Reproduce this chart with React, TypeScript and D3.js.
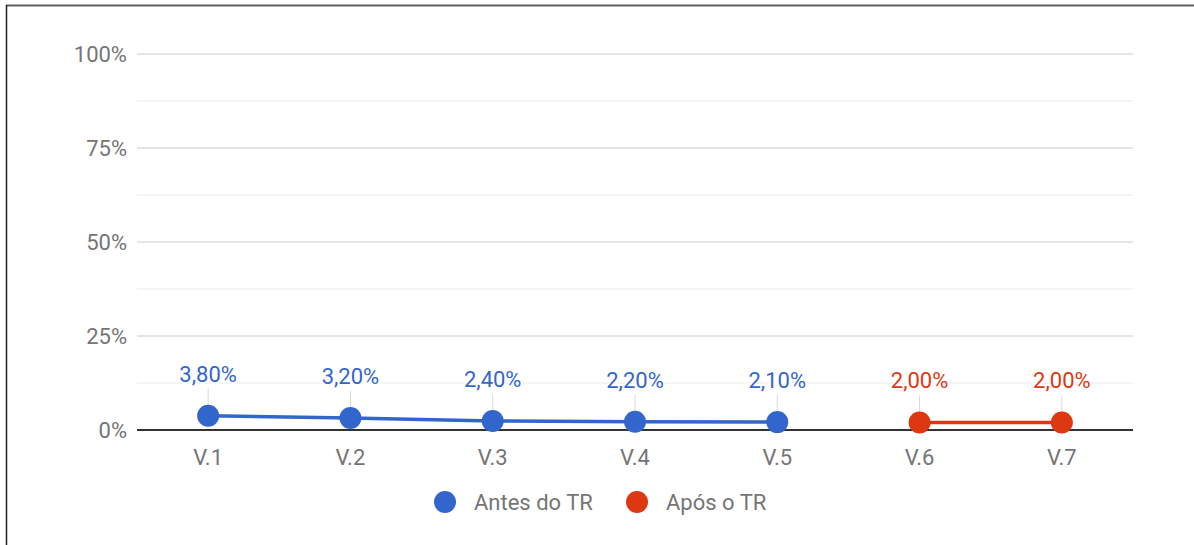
import { useEffect, useRef } from "react";
import * as d3 from "d3";

const categories = ["V.1", "V.2", "V.3", "V.4", "V.5", "V.6", "V.7"];
const antesValues = [3.8, 3.2, 2.4, 2.2, 2.1];
const aposValues = [2.0, 2.0];
const antesCats = ["V.1", "V.2", "V.3", "V.4", "V.5"];
const aposCats = ["V.6", "V.7"];
const yTicks = [0, 25, 50, 75, 100];
const yMinorTicks = [12.5, 37.5, 62.5, 87.5];
const seriesNames = ["Antes do TR", "Após o TR"];

const BLUE = "#3366cc";
const RED = "#dc3912";
const FONT = "Roboto, 'Noto Sans', sans-serif";

interface Point {
  cat: string;
  value: number;
}

export default function App() {
  const svgRef = useRef<SVGSVGElement>(null);

  useEffect(() => {
    if (!svgRef.current) return;

    const width = 1194;
    const height = 545;
    const margin = { top: 54, right: 61, bottom: 115, left: 137 };
    const innerWidth = width - margin.left - margin.right;
    const innerHeight = height - margin.top - margin.bottom;

    d3.select(svgRef.current).selectAll("*").remove();

    const svg = d3
      .select(svgRef.current)
      .attr("width", width)
      .attr("height", height);

    // frame (top + left edges only)
    svg
      .append("line")
      .attr("x1", 6)
      .attr("x2", width)
      .attr("y1", 5.5)
      .attr("y2", 5.5)
      .attr("stroke", "#5f5f5f")
      .attr("stroke-width", 2);
    svg
      .append("line")
      .attr("x1", 6.5)
      .attr("x2", 6.5)
      .attr("y1", 5)
      .attr("y2", height)
      .attr("stroke", "#222")
      .attr("stroke-width", 1.5);

    const g = svg
      .append("g")
      .attr("transform", `translate(${margin.left},${margin.top})`);

    const x = d3
      .scaleBand<string>()
      .domain(categories)
      .range([0, innerWidth]);
    const cx = (c: string) => (x(c) ?? 0) + x.bandwidth() / 2;

    const y = d3.scaleLinear().domain([0, 100]).range([innerHeight, 0]);

    // minor gridlines
    g.selectAll(".minor")
      .data(yMinorTicks)
      .join("line")
      .attr("x1", 0)
      .attr("x2", innerWidth)
      .attr("y1", (d) => y(d))
      .attr("y2", (d) => y(d))
      .attr("stroke", "#ebebeb")
      .attr("stroke-width", 1);

    // major gridlines
    g.selectAll(".major")
      .data(yTicks.filter((d) => d !== 0))
      .join("line")
      .attr("x1", 0)
      .attr("x2", innerWidth)
      .attr("y1", (d) => y(d))
      .attr("y2", (d) => y(d))
      .attr("stroke", "#cccccc")
      .attr("stroke-width", 1);

    // y labels
    g.selectAll(".ylab")
      .data(yTicks)
      .join("text")
      .attr("x", -10)
      .attr("y", (d) => y(d))
      .attr("dy", "0.38em")
      .attr("text-anchor", "end")
      .attr("font-family", FONT)
      .attr("font-size", 22)
      .attr("fill", "#757575")
      .text((d) => `${d}%`);

    // x labels
    g.selectAll(".xlab")
      .data(categories)
      .join("text")
      .attr("x", (d) => cx(d))
      .attr("y", innerHeight + 35)
      .attr("text-anchor", "middle")
      .attr("font-family", FONT)
      .attr("font-size", 22)
      .attr("fill", "#757575")
      .text((d) => d);

    const series: { name: string; color: string; data: Point[] }[] = [
      {
        name: seriesNames[0],
        color: BLUE,
        data: antesCats.map((c, i) => ({ cat: c, value: antesValues[i] })),
      },
      {
        name: seriesNames[1],
        color: RED,
        data: aposCats.map((c, i) => ({ cat: c, value: aposValues[i] })),
      },
    ];

    const fmt = (v: number) => `${v.toFixed(2).replace(".", ",")}%`;

    // annotation stems
    series.forEach((s) => {
      g.selectAll(null)
        .data(s.data)
        .join("line")
        .attr("x1", (d) => cx(d.cat))
        .attr("x2", (d) => cx(d.cat))
        .attr("y1", (d) => y(d.value) - 27)
        .attr("y2", (d) => y(d.value))
        .attr("stroke", "#d9d9d9")
        .attr("stroke-width", 1);
    });

    // baseline
    g.append("line")
      .attr("x1", 0)
      .attr("x2", innerWidth)
      .attr("y1", y(0))
      .attr("y2", y(0))
      .attr("stroke", "#333")
      .attr("stroke-width", 2);

    const line = d3
      .line<Point>()
      .x((d) => cx(d.cat))
      .y((d) => y(d.value));

    series.forEach((s) => {
      g.append("path")
        .datum(s.data)
        .attr("d", line)
        .attr("fill", "none")
        .attr("stroke", s.color)
        .attr("stroke-width", 3.5);

      g.selectAll(null)
        .data(s.data)
        .join("circle")
        .attr("cx", (d) => cx(d.cat))
        .attr("cy", (d) => y(d.value))
        .attr("r", 11)
        .attr("fill", s.color);

      // annotation labels with white halo
      g.selectAll(null)
        .data(s.data)
        .join("text")
        .attr("x", (d) => cx(d.cat))
        .attr("y", (d) => y(d.value) - 34)
        .attr("text-anchor", "middle")
        .attr("font-family", FONT)
        .attr("font-size", 22)
        .attr("fill", s.color)
        .attr("stroke", "#fff")
        .attr("stroke-width", 4)
        .attr("paint-order", "stroke")
        .text((d) => fmt(d.value));
    });

    // legend
    const legend = svg.append("g").attr("transform", "translate(445,502)");
    const legendX = [0, 192];
    series.forEach((s, i) => {
      const item = legend
        .append("g")
        .attr("transform", `translate(${legendX[i]},0)`);
      item.append("circle").attr("r", 11).attr("fill", s.color);
      item
        .append("text")
        .attr("x", 29)
        .attr("y", 0)
        .attr("dy", "0.38em")
        .attr("font-family", FONT)
        .attr("font-size", 22)
        .attr("fill", "#757575")
        .text(s.name);
    });
  }, []);

  return (
    <div
      style={{
        position: "fixed",
        left: 0,
        top: 0,
        width: 1194,
        height: 545,
        background: "#fff",
      }}
    >
      <svg ref={svgRef} style={{ display: "block" }} />
    </div>
  );
}
